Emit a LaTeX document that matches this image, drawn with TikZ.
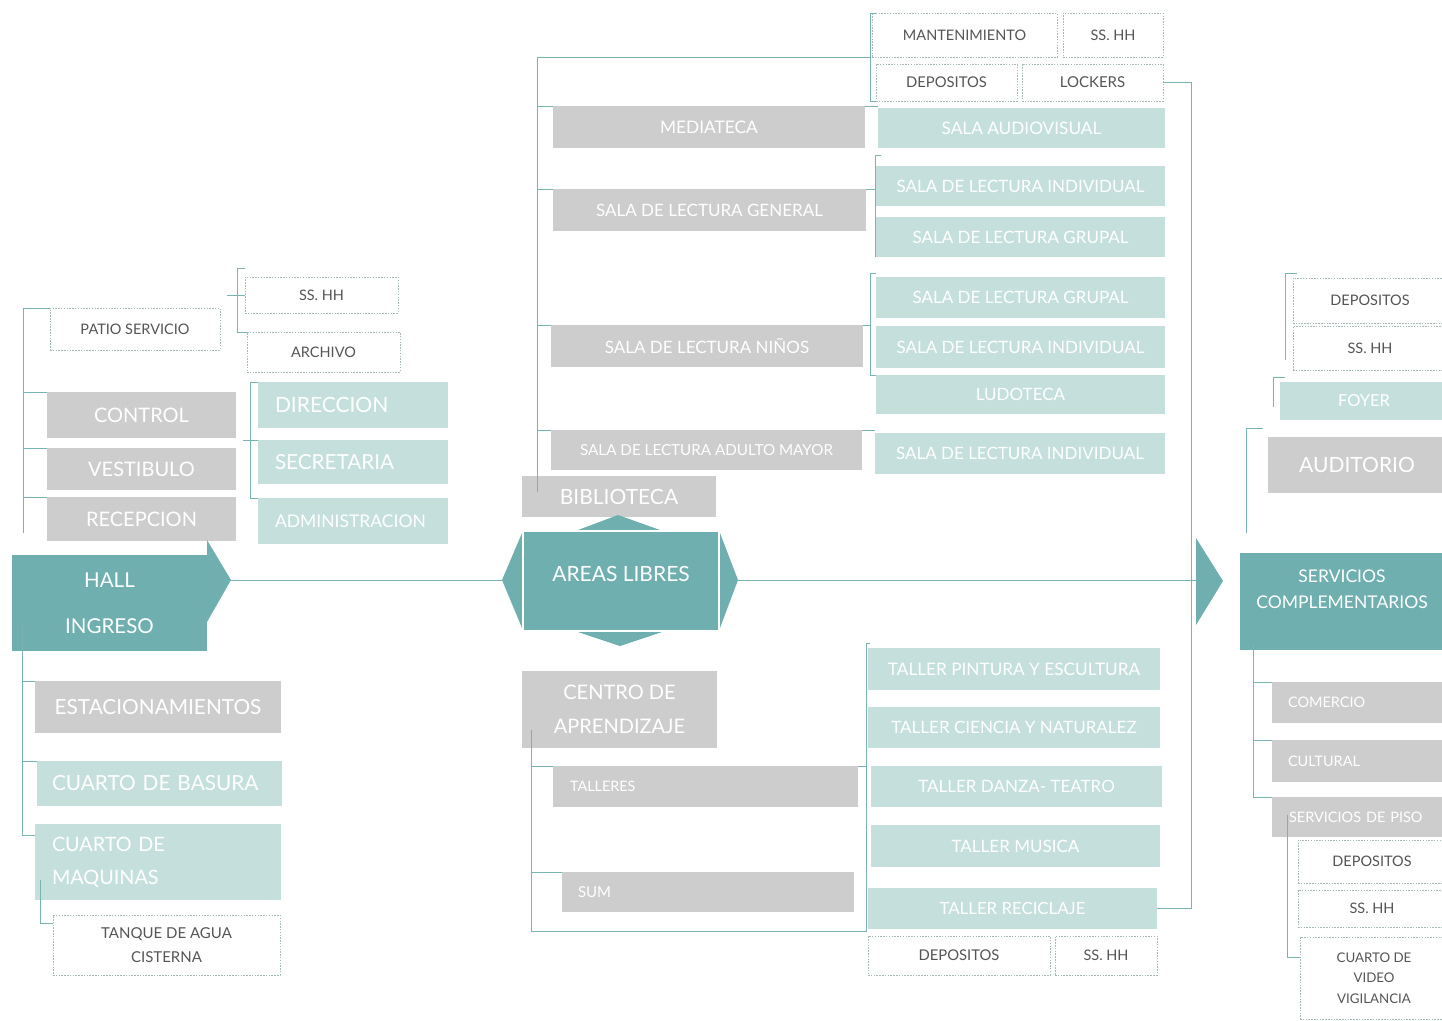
\documentclass[tikz,border=0pt]{standalone}
\usepackage{fontspec}
\setmainfont{Lato}
\definecolor{dtl}{RGB}{111,175,175}
\definecolor{ltl}{RGB}{197,224,220}
\definecolor{gry}{RGB}{205,205,205}
\definecolor{lnc}{RGB}{122,180,178}
\definecolor{dsh}{RGB}{165,185,185}
\definecolor{dtx}{RGB}{85,85,85}
\newcommand\fs[1]{\fontsize{#1}{#1}\selectfont}
\newcommand\fss[2]{\fontsize{#1}{#2}\selectfont}
\newcommand\mybox[7]{%
  \pgfmathsetmacro\bxw{#5-#3}\pgfmathsetmacro\bxh{#6-#4}%
  \node[#2, minimum width=\bxw pt, minimum height=\bxh pt] (#1) at ({(#3+#5)/2},{(#4+#6)/2}) {#7};}
\newcommand\myboxl[8]{%
  \pgfmathsetmacro\bxw{#5-#3}\pgfmathsetmacro\bxh{#6-#4}\pgfmathsetmacro\bxt{#5-#3-2*#7}%
  \node[#2, minimum width=\bxw pt, minimum height=\bxh pt, text width=\bxt pt, inner xsep=#7pt, align=left] (#1) at ({(#3+#5)/2},{(#4+#6)/2}) {#8};}
\tikzset{
  base/.style={inner sep=0pt, outer sep=0pt, text=white, align=center},
  gbox/.style={base, fill=gry},
  lbox/.style={base, fill=ltl},
  tbox/.style={base, fill=dtl},
  dbox/.style={base, draw=dsh, line width=0.7pt, dash pattern=on 1.5pt off 1.3pt, text=dtx, fill=white},
  conn/.style={draw=lnc, line width=1pt},
  shp/.style={fill=dtl}
}
\begin{document}
\begin{tikzpicture}[x=1pt,y=-1pt]
\fill[white] (0,0) rectangle (1442,1020);
\useasboundingbox (0,0) rectangle (1442,1020);
% ---------------- left
\mybox{patio}{dbox,font=\fs{14.5}}{50}{308}{220}{350}{PATIO SERVICIO}
\mybox{ssA}{dbox,font=\fs{14.5}}{245}{277}{398}{313}{SS. HH}
\mybox{arch}{dbox,font=\fs{14.5}}{247}{332}{400}{372}{ARCHIVO}
\mybox{ctrl}{gbox,font=\fs{20}}{47}{392}{236}{438}{CONTROL}
\mybox{vest}{gbox,font=\fs{20}}{47}{448}{236}{490}{VESTIBULO}
\mybox{recep}{gbox,font=\fs{20}}{47}{497}{236}{541}{RECEPCION}
\myboxl{dir}{lbox,font=\fs{21}}{258}{382}{448}{428}{17}{DIRECCION}
\myboxl{secr}{lbox,font=\fs{20.7}}{258}{440}{448}{484}{17}{SECRETARIA}
\myboxl{adm}{lbox,font=\fs{17.5}}{258}{498}{448}{544}{17}{ADMINISTRACION}
\mybox{hall}{tbox,font=\fss{20.5}{46}}{12}{555}{207}{651}{HALL\\INGRESO}
\mybox{estac}{gbox,font=\fs{20.8}}{35}{681}{281}{733}{ESTACIONAMIENTOS}
\myboxl{basura}{lbox,font=\fs{20.8}}{37}{761}{282}{806}{15}{CUARTO DE BASURA}
\myboxl{maq}{lbox,font=\fss{19.8}{33}}{35}{824}{281}{900}{17}{CUARTO DE\\MAQUINAS}
\mybox{tanque}{dbox,font=\fss{15}{24}}{53}{915}{280}{975}{TANQUE DE AGUA\\CISTERNA}
% ---------------- centre top
\mybox{mant}{dbox,font=\fs{14.5}}{872}{13}{1057}{57}{MANTENIMIENTO}
\mybox{ssB}{dbox,font=\fs{14.5}}{1063}{13}{1163}{57}{SS. HH}
\mybox{depA}{dbox,font=\fs{14.8}}{876}{64}{1017}{101}{DEPOSITOS}
\mybox{lock}{dbox,font=\fs{15}}{1022}{64}{1163}{101}{LOCKERS}
\mybox{media}{gbox,font=\fs{17.3}}{553}{106}{865}{148}{MEDIATECA}
\mybox{sgen}{gbox,font=\fs{17}}{553}{189}{866}{231}{SALA DE LECTURA GENERAL}
\mybox{ninos}{gbox,font=\fs{17}}{551}{325}{863}{367}{SALA DE LECTURA NIÑOS}
\mybox{adulto}{gbox,font=\fs{15.2}}{551}{430}{862}{470}{SALA DE LECTURA ADULTO MAYOR}
\mybox{audio}{lbox,font=\fs{17.2}}{878}{108}{1165}{148}{SALA AUDIOVISUAL}
\mybox{ind1}{lbox,font=\fs{17}}{876}{166}{1165}{206}{SALA DE LECTURA INDIVIDUAL}
\mybox{grp1}{lbox,font=\fs{17}}{876}{217}{1165}{257}{SALA DE LECTURA GRUPAL}
\mybox{grp2}{lbox,font=\fs{17}}{876}{277}{1165}{318}{SALA DE LECTURA GRUPAL}
\mybox{ind2}{lbox,font=\fs{17}}{876}{326}{1165}{368}{SALA DE LECTURA INDIVIDUAL}
\mybox{ludo}{lbox,font=\fs{17}}{876}{375}{1165}{414}{LUDOTECA}
\mybox{ind3}{lbox,font=\fs{17}}{875}{433}{1165}{474}{SALA DE LECTURA INDIVIDUAL}
\mybox{biblio}{gbox,font=\fs{21}}{522}{476}{716}{517}{BIBLIOTECA}
% ---------------- shapes
\fill[dtl] (207,540) -- (231,580) -- (207,622) -- cycle;
\fill[dtl] (522,533) -- (502,580) -- (522,628) -- cycle;
\fill[dtl] (720,533) -- (738,580) -- (720,628) -- cycle;
\fill[dtl] (578,530) -- (618,515) -- (660,530) -- cycle;
\fill[dtl] (578,632) -- (620,646) -- (662,632) -- cycle;
\fill[dtl] (1196,538) -- (1223,581) -- (1196,625) -- cycle;
\mybox{areas}{tbox,draw=white,line width=1.5pt,font=\fs{21},text depth=14pt}{523}{531}{719}{631}{AREAS LIBRES}
% ---------------- centre bottom
\mybox{centro}{gbox,font=\fss{20}{34}}{522}{671}{717}{748}{CENTRO DE\\APRENDIZAJE}
\myboxl{tall}{gbox,font=\fs{14.4}}{553}{766}{858}{807}{17}{TALLERES}
\myboxl{sum}{gbox,font=\fs{15}}{562}{872}{854}{912}{16}{SUM}
\mybox{pint}{lbox,font=\fs{17.2}}{868}{648}{1160}{690}{TALLER PINTURA Y ESCULTURA}
\mybox{cien}{lbox,font=\fs{17}}{868}{707}{1160}{748}{TALLER CIENCIA Y NATURALEZ}
\mybox{danza}{lbox,font=\fs{17}}{871}{766}{1162}{807}{TALLER DANZA- TEATRO}
\mybox{musica}{lbox,font=\fs{17}}{871}{825}{1160}{867}{TALLER MUSICA}
\mybox{recic}{lbox,font=\fs{16.8}}{868}{888}{1157}{929}{TALLER RECICLAJE}
\mybox{depB}{dbox,font=\fs{14.8}}{868}{936}{1050}{975}{DEPOSITOS}
\mybox{ssC}{dbox,font=\fs{14.5}}{1055}{936}{1157}{975}{SS. HH}
% ---------------- right
\mybox{depC}{dbox,font=\fs{14.5}}{1293}{278}{1447}{323}{DEPOSITOS}
\mybox{ssD}{dbox,font=\fs{14.5}}{1293}{326}{1447}{370}{SS. HH}
\mybox{foyer}{lbox,font=\fs{16.5}}{1280}{382}{1448}{420}{FOYER}
\mybox{audit}{gbox,font=\fs{21}}{1268}{437}{1446}{493}{AUDITORIO}
\mybox{serv}{tbox,font=\fss{17.5}{26},text depth=24pt}{1240}{553}{1444}{650}{SERVICIOS\\COMPLEMENTARIOS}
\myboxl{comer}{gbox,font=\fs{14.5}}{1272}{682}{1450}{723}{16}{COMERCIO}
\myboxl{cult}{gbox,font=\fs{14.5}}{1272}{740}{1450}{782}{16}{CULTURAL}
\myboxl{piso}{gbox,font=\fs{14.5}}{1272}{797}{1450}{837}{17}{SERVICIOS DE PISO}
\mybox{depD}{dbox,font=\fs{14.5}}{1298}{840}{1446}{883}{DEPOSITOS}
\mybox{ssE}{dbox,font=\fs{14.5}}{1298}{890}{1446}{927}{SS. HH}
\mybox{video}{dbox,font=\fss{13.3}{20.5}}{1300}{937}{1448}{1019}{CUARTO DE\\VIDEO\\VIGILANCIA}
% ---------------- connectors
\coordinate (hallTip) at (231,580);
\coordinate (alW) at (502,580);
\coordinate (alE) at (738,580);
\coordinate (arrL) at (1196,580);
\draw[conn] (hallTip) -- (alW);
\draw[conn] (alE) -- (arrL);
% left upper
\coordinate (sL) at (23,533);
\draw[conn] (sL) |- (patio.north west);
\draw[conn] (ctrl.north west) -- (ctrl.north west -| sL);
\draw[conn] (vest.north west) -- (vest.north west -| sL);
\draw[conn] (recep.north west) -- (recep.north west -| sL);
\coordinate (bA) at (237,268);
\draw[conn] ([xshift=8pt]bA) -- (bA) |- (arch.north west);
\draw[conn] (ssA.west) -- ++(-18,0);
\coordinate (bD) at (250,382);
\draw[conn] (dir.north west) -- (bD) |- (adm.north west);
\draw[conn] (secr.north west) -- ++(-15,0);
% left lower
\coordinate (sH) at (22,625);
\draw[conn] (sH) |- ([yshift=-11pt]maq.north west);
\draw[conn] (estac.north west) -- (estac.north west -| sH);
\draw[conn] (basura.north west) -- (basura.north west -| sH);
\coordinate (sT) at (40,880);
\draw[conn] (sT) |- ([yshift=-8pt]tanque.north west);
% top spine
\coordinate (sB) at (537,492);
\coordinate (bM) at (870,57);
\draw[conn] (sB) |- (bM);
\draw[conn] ([xshift=6pt]bM |- mant.north) -- (bM |- mant.north) -- (bM |- depA.south) -- ([xshift=6pt]bM |- depA.south);
\draw[conn] (media.north west) -- (media.north west -| sB);
\draw[conn] (sgen.north west) -- (sgen.north west -| sB);
\draw[conn] (ninos.north west) -- (ninos.north west -| sB);
\draw[conn] (adulto.north west) -- (adulto.north west -| sB);
\draw[conn] (media.north east) -- (media.north east -| audio.west);
\coordinate (bG) at (875,155);
\draw[conn] ([xshift=6pt]bG) -- (bG) -- (bG |- grp1.south);
\draw[conn] (sgen.north east) -- (sgen.north east -| bG);
\coordinate (bN) at (870,273);
\draw[conn] ([xshift=6pt]bN) -- (bN) -- (bN |- ludo.north) -- ++(6,0);
\draw[conn] (ninos.north east) -- (ninos.north east -| bN);
\draw[conn] (adulto.north east) -- (adulto.north east -| ind3.west);
% right spine
\coordinate (rs) at (1191,85);
\draw[conn] (lock.east) -- (lock.east -| rs) -- (rs |- recic.east) -- (recic.east);
% lower centre
\coordinate (sC) at (531,730);
\coordinate (cB) at (531,931);
\coordinate (bT) at (866,643);
\draw[conn] (sC) -- (cB) -- (cB -| bT) -- (bT) -- ++(4,0);
\draw[conn] (tall.north west) -- (tall.north west -| sC);
\draw[conn] (sum.north west) -- (sum.north west -| sC);
\draw[conn] (tall.north east) -- (tall.north east -| bT);
% right upper
\coordinate (r1) at (1285,273);
\coordinate (r1b) at (1285,360);
\draw[conn] ([xshift=12pt]r1) -- (r1) -- (r1b);
\coordinate (r2) at (1273,377);
\coordinate (r2b) at (1273,407);
\draw[conn] ([xshift=12pt]r2) -- (r2) -- (r2b);
\coordinate (r3) at (1246,428);
\coordinate (r3b) at (1246,533);
\draw[conn] ([xshift=17pt]r3) -- (r3) -- (r3b);
% right lower
\coordinate (sR) at (1253,645);
\draw[conn] (sR) |- (piso.north west);
\draw[conn] (comer.north west) -- (comer.north west -| sR);
\draw[conn] (cult.north west) -- (cult.north west -| sR);
\coordinate (sP) at (1287,815);
\draw[conn] (sP) |- ([yshift=-20pt]video.north west);
\end{tikzpicture}
\end{document}
